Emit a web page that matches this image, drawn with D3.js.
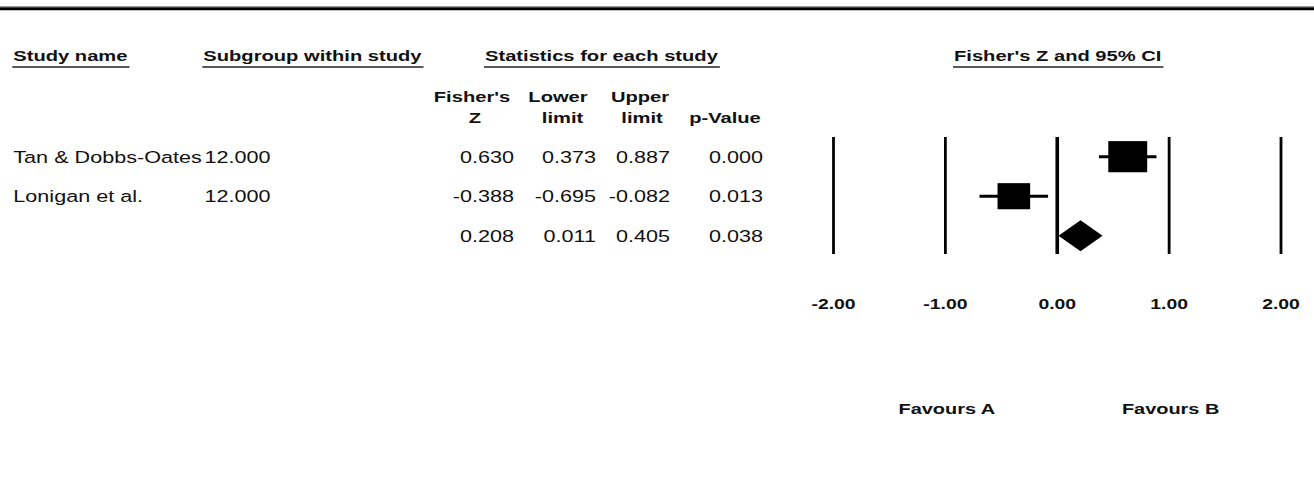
<!DOCTYPE html>
<html>
<head>
<meta charset="utf-8">
<script src="https://cdn.jsdelivr.net/npm/d3@7"></script>
<style>
  html, body { margin: 0; padding: 0; background: #fff; }
  svg { display: block; }
</style>
</head>
<body>
<svg id="chart" width="1314" height="490"></svg>
<script>
// ---- data ----
const studyNames = ["Tan & Dobbs-Oates", "Lonigan et al.", ""];
const subgroups  = ["12.000", "12.000", ""];
const rowTypes   = ["study", "study", "summary"];
const fisherZ    = [0.630, -0.388, 0.208];
const lowerLimit = [0.373, -0.695, 0.011];
const upperLimit = [0.887, -0.082, 0.405];
const pValues    = [0.000, 0.013, 0.038];
const tickValues = [-2, -1, 0, 1, 2];
const favourLabels = ["Favours A", "Favours B"];
const favourAt   = [-1, 1];
const topHeaders = ["Study name", "Subgroup within study", "Statistics for each study", "Fisher's Z and 95% CI"];
const colHeads1  = ["Fisher's", "Lower", "Upper", ""];
const colHeads2  = ["Z", "limit", "limit", "p-Value"];

// ---- layout ----
const svg = d3.select("#chart");
const W = 1314;
const x = d3.scaleLinear().domain([-2, 2]).range([833.5, 1281]);
const rows = d3.range(fisherZ.length);
const y = d3.scalePoint().domain(rows).range([156.7, 235.7]);
const hy = s => s.replace(/\u2212/g, "-");
const f3 = d3.format(".3f"), f2 = d3.format(".2f");
const fmt = v => hy(f3(v));
const fmt2 = v => hy(f2(v));

const styles = {
  reg:   { size: 16.5, sx: 1.31, weight: "normal" },
  head:  { size: 14.2, sx: 1.42, weight: "bold" },
  tick:  { size: 15.5, sx: 1.25, weight: "bold" },
  fav:   { size: 15.0, sx: 1.33, weight: "bold" }
};

function txt(str, px, py, anchor, st) {
  const s = styles[st];
  const t = svg.append("text")
    .attr("transform", `translate(${px},${py}) scale(${s.sx},1)`)
    .attr("text-anchor", anchor)
    .attr("font-family", "'Liberation Sans', Arial, sans-serif")
    .attr("font-size", s.size)
    .attr("font-weight", s.weight)
    .attr("fill", "#111")
    .text(str);
  return t;
}

// top rule
svg.append("line").attr("x1", 0).attr("x2", W).attr("y1", 6.5).attr("y2", 6.5)
  .attr("stroke", "#999").attr("stroke-width", 1);
svg.append("line").attr("x1", 0).attr("x2", W).attr("y1", 8.8).attr("y2", 8.8)
  .attr("stroke", "#000").attr("stroke-width", 3);

// top headers with underline
const topX = [13.3, 203.3, 485, 954];
topHeaders.forEach((h, i) => {
  const t = txt(h, topX[i], 61, "start", "head");
  const w = t.node().getComputedTextLength() * styles.head.sx;
  svg.append("line")
    .attr("x1", topX[i] - 1).attr("x2", topX[i] + w + 2)
    .attr("y1", 67).attr("y2", 67)
    .attr("stroke", "#222").attr("stroke-width", 1.6);
});

// column headers
const headCx1 = [472, 558, 640, 725];
const headCx2 = [475, 562.5, 642, 725];
colHeads1.forEach((h, i) => { if (h) txt(h, headCx1[i], 101.7, "middle", "head"); });
colHeads2.forEach((h, i) => { if (h) txt(h, headCx2[i], 122.5, "middle", "head"); });

// table rows
rows.forEach(i => {
  const by = y(i) + 6;
  if (studyNames[i]) txt(studyNames[i], 13.3, by, "start", "reg");
  if (subgroups[i]) txt(subgroups[i], 204.5, by, "start", "reg");
  txt(fmt(fisherZ[i]), 514, by, "end", "reg");
  txt(fmt(lowerLimit[i]), 596, by, "end", "reg");
  txt(fmt(upperLimit[i]), 670, by, "end", "reg");
  txt(fmt(pValues[i]), 763, by, "end", "reg");
});

// vertical reference lines
tickValues.forEach(v => {
  svg.append("line")
    .attr("x1", x(v)).attr("x2", x(v))
    .attr("y1", 137).attr("y2", 254)
    .attr("stroke", "#000")
    .attr("stroke-width", v === 0 ? 3.6 : 2.8);
});

// study markers
const k = 5.1; // px per sqrt(weight)
rows.forEach(i => {
  const yc = y(i);
  if (rowTypes[i] === "study") {
    svg.append("line")
      .attr("x1", x(lowerLimit[i])).attr("x2", x(upperLimit[i]))
      .attr("y1", yc).attr("y2", yc)
      .attr("stroke", "#000").attr("stroke-width", 3);
    const se = (upperLimit[i] - lowerLimit[i]) / (2 * 1.96);
    const bw = k * Math.sqrt(1 / (se * se));
    const bh = bw * 0.8;
    svg.append("rect")
      .attr("x", x(fisherZ[i]) - bw / 2).attr("y", yc - bh / 2)
      .attr("width", bw).attr("height", bh)
      .attr("fill", "#000");
  } else {
    const hh = 15.5;
    const pts = [[x(lowerLimit[i]), yc], [x(fisherZ[i]), yc - hh],
                 [x(upperLimit[i]), yc], [x(fisherZ[i]), yc + hh]];
    svg.append("polygon")
      .attr("points", pts.map(p => p.join(",")).join(" "))
      .attr("fill", "#000");
  }
});

// tick labels
tickValues.forEach(v => txt(fmt2(v), x(v), 309, "middle", "tick"));

// favours labels
favourLabels.forEach((f, i) => txt(f, x(favourAt[i]) + 1.5, 414, "middle", "fav"));
</script>
</body>
</html>
